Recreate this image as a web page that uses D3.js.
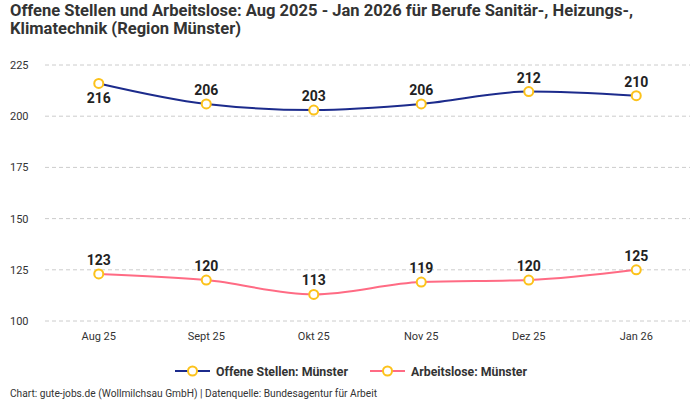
<!DOCTYPE html>
<html>
<head>
<meta charset="utf-8">
<script src="https://cdn.jsdelivr.net/npm/d3@7"></script>
<style>
  body { margin: 0; background: #fff; }
  svg { font-family: Roboto, "Noto Sans", sans-serif; }
</style>
</head>
<body>
<svg width="700" height="400"></svg>
<script>
// months and the two series
var months = ["Aug 25", "Sept 25", "Okt 25", "Nov 25", "Dez 25", "Jan 26"];
var offeneStellen = [216, 206, 203, 206, 212, 210];
var arbeitslose = [123, 120, 113, 119, 120, 125];
var yTicks = [100, 125, 150, 175, 200, 225];

var svg = d3.select("svg");

var x = d3.scalePoint().domain(months).range([45, 690]).padding(0.5);
var y = d3.scaleLinear().domain([100, 225]).range([321, 65]);

// title
svg.append("text").attr("x", 10).attr("y", 16)
    .attr("font-size", 16).attr("font-weight", "bold").attr("fill", "#333")
    .attr("textLength", 623).attr("lengthAdjust", "spacingAndGlyphs")
    .text("Offene Stellen und Arbeitslose: Aug 2025 - Jan 2026 für Berufe Sanitär-, Heizungs-,");
svg.append("text").attr("x", 10).attr("y", 34)
    .attr("font-size", 16).attr("font-weight", "bold").attr("fill", "#333")
    .attr("textLength", 231).attr("lengthAdjust", "spacingAndGlyphs")
    .text("Klimatechnik (Region Münster)");

// grid
svg.selectAll(".grid").data(yTicks).enter().append("line")
    .attr("x1", 45).attr("x2", 690)
    .attr("y1", function(d) { return y(d); })
    .attr("y2", function(d) { return y(d); })
    .attr("stroke", "#ccc").attr("stroke-dasharray", "4,3");

svg.selectAll(".ylab").data(yTicks).enter().append("text")
    .attr("x", 10).attr("y", function(d) { return y(d) + 4; })
    .attr("font-size", 11).attr("fill", "#333")
    .text(function(d) { return d; });

svg.selectAll(".xlab").data(months).enter().append("text")
    .attr("x", function(d) { return x(d); }).attr("y", 340)
    .attr("text-anchor", "middle").attr("font-size", 11).attr("fill", "#333")
    .text(function(d) { return d; });

var series = [
  { name: "Offene Stellen: Münster", values: offeneStellen, color: "#1c2b8c", legX: 175, legW: 132 },
  { name: "Arbeitslose: Münster", values: arbeitslose, color: "#ff6b84", legX: 370, legW: 116 }
];

var line = d3.line()
    .x(function(d, i) { return x(months[i]); })
    .y(function(d) { return y(d); })
    .curve(d3.curveMonotoneX);

series.forEach(function(s, si) {
  svg.append("path").attr("d", line(s.values))
      .attr("fill", "none").attr("stroke", s.color).attr("stroke-width", 2);

  svg.selectAll(".pt" + si).data(s.values).enter().append("circle")
      .attr("cx", function(d, i) { return x(months[i]); })
      .attr("cy", function(d) { return y(d); })
      .attr("r", 4.5).attr("fill", "#fff")
      .attr("stroke", "#fcc21b").attr("stroke-width", 2);

  svg.selectAll(".lab" + si).data(s.values).enter().append("text")
      .attr("x", function(d, i) { return x(months[i]); })
      .attr("y", function(d, i) {
        // first label of the top line sits below its point
        return (si === 0 && i === 0) ? y(d) + 20 : y(d) - 9;
      })
      .attr("text-anchor", "middle").attr("font-size", 14).attr("font-weight", "bold")
      .attr("fill", "#222")
      .text(function(d) { return d; });

  // legend
  var g = svg.append("g").attr("transform", "translate(" + s.legX + ",371)");
  g.append("line").attr("x1", 0).attr("x2", 35).attr("stroke", s.color).attr("stroke-width", 2);
  g.append("circle").attr("cx", 17.5).attr("r", 4.5).attr("fill", "#fff")
      .attr("stroke", "#fcc21b").attr("stroke-width", 2);
  g.append("text").attr("x", 41).attr("y", 5)
      .attr("font-size", 13).attr("font-weight", "bold").attr("fill", "#333")
      .attr("textLength", s.legW).attr("lengthAdjust", "spacingAndGlyphs")
      .text(s.name);
});

svg.append("text").attr("x", 10).attr("y", 397)
    .attr("font-size", 10).attr("fill", "#333")
    .attr("textLength", 367).attr("lengthAdjust", "spacingAndGlyphs")
    .text("Chart: gute-jobs.de (Wollmilchsau GmbH) | Datenquelle: Bundesagentur für Arbeit");
</script>
</body>
</html>
